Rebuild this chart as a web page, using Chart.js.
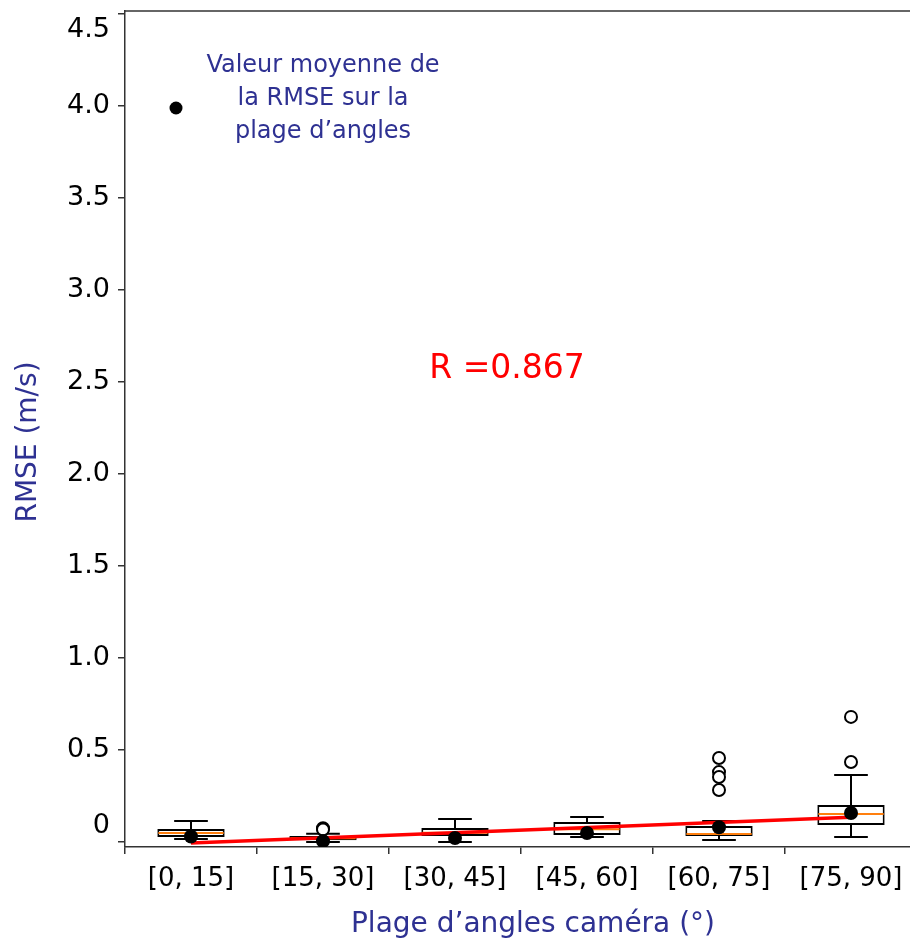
<!DOCTYPE html>
<html>
<head>
<meta charset="utf-8">
<script src="https://cdn.jsdelivr.net/npm/chart.js@4/dist/chart.umd.min.js"></script>
<style>
html,body{margin:0;padding:0;background:#fff;overflow:hidden;}
canvas{display:block;}
</style>
</head>
<body>
<canvas id="c" width="925" height="944" style="width:925px;height:944px;"></canvas>
<script>
const categories = ['[0, 15]', '[15, 30]', '[30, 45]', '[45, 60]', '[60, 75]', '[75, 90]'];
const whiskerMin = [0.016, 0.0, 0.0, 0.027, 0.011, 0.027];
const q1 = [0.027, 0.01, 0.033, 0.038, 0.033, 0.092];
const median = [0.049, 0.02, 0.05, 0.07, 0.043, 0.152];
const q3 = [0.071, 0.033, 0.076, 0.109, 0.087, 0.201];
const whiskerMax = [0.114, 0.045, 0.125, 0.136, 0.114, 0.364];
const means = [0.03, 0.005, 0.022, 0.049, 0.08, 0.158];
const outlierCats = ['[15, 30]', '[15, 30]', '[60, 75]', '[60, 75]', '[60, 75]', '[60, 75]', '[75, 90]', '[75, 90]'];
const outlierVals = [0.075, 0.068, 0.457, 0.38, 0.353, 0.283, 0.435, 0.68];
const trendVals = [-0.005, null, null, null, null, 0.135];
const yTicks = [0, 0.5, 1, 1.5, 2, 2.5, 3, 3.5, 4, 4.5];
const yTickLabels = ['0', '0.5', '1.0', '1.5', '2.0', '2.5', '3.0', '3.5', '4.0', '4.5'];
const rText = 'R =0.867';
const xTitle = 'Plage d\u2019angles cam\u00e9ra (\u00b0)';
const yTitle = 'RMSE (m/s)';
const legendLines = ['Valeur moyenne de', 'la RMSE sur la', 'plage d\u2019angles'];

const FONT = '"DejaVu Sans", Verdana, sans-serif';
const BLUE = '#2e3192';

const boxPlugin = {
  id: 'boxExtras',
  afterDatasetDraw(chart, args) {
    if (args.index !== 0) return;
    const ctx = chart.ctx, ys = chart.scales.y;
    const meta = chart.getDatasetMeta(0);
    ctx.save();
    categories.forEach((c, i) => {
      const bar = meta.data[i];
      const cx = bar.x, w = bar.width, cw = w / 2;
      const pMin = ys.getPixelForValue(whiskerMin[i]);
      const pQ1 = ys.getPixelForValue(q1[i]);
      const pQ3 = ys.getPixelForValue(q3[i]);
      const pMax = ys.getPixelForValue(whiskerMax[i]);
      const pMed = ys.getPixelForValue(median[i]);
      ctx.strokeStyle = '#000';
      ctx.lineWidth = 2;
      ctx.beginPath();
      ctx.moveTo(cx, pQ3); ctx.lineTo(cx, pMax);
      ctx.moveTo(cx - cw / 2, pMax); ctx.lineTo(cx + cw / 2, pMax);
      ctx.moveTo(cx, pQ1); ctx.lineTo(cx, pMin);
      ctx.moveTo(cx - cw / 2, pMin); ctx.lineTo(cx + cw / 2, pMin);
      ctx.stroke();
      ctx.strokeStyle = '#ff7f0e';
      ctx.lineWidth = 2;
      ctx.beginPath();
      ctx.moveTo(cx - w / 2 + 1, pMed); ctx.lineTo(cx + w / 2 - 1, pMed);
      ctx.stroke();
    });
    ctx.restore();
  },
  afterDraw(chart) {
    const ctx = chart.ctx, a = chart.chartArea;
    ctx.save();
    ctx.strokeStyle = '#333';
    ctx.lineWidth = 1.5;
    ctx.beginPath();
    ctx.moveTo(a.left, a.top); ctx.lineTo(a.right, a.top);
    ctx.stroke();
    ctx.fillStyle = '#ff0000';
    ctx.font = '33px ' + FONT;
    ctx.textAlign = 'center';
    ctx.textBaseline = 'middle';
    ctx.fillText(rText, 507, 369);
    ctx.fillStyle = BLUE;
    ctx.font = '24px ' + FONT;
    legendLines.forEach((t, i) => ctx.fillText(t, 323, 66 + i * 33));
    ctx.fillStyle = '#000';
    ctx.beginPath();
    ctx.arc(176, 108, 6.5, 0, Math.PI * 2);
    ctx.fill();
    ctx.fillStyle = BLUE;
    ctx.font = '28px ' + FONT;
    ctx.fillText(xTitle, 533, 925);
    ctx.translate(29, 442);
    ctx.rotate(-Math.PI / 2);
    ctx.fillText(yTitle, 0, 0);
    ctx.restore();
  }
};

new Chart(document.getElementById('c'), {
  type: 'bar',
  data: {
    labels: categories,
    datasets: [
      {
        type: 'bar',
        data: categories.map((c, i) => [q1[i], q3[i]]),
        backgroundColor: '#ffffff',
        borderColor: '#000000',
        borderWidth: 2,
        borderSkipped: false,
        barPercentage: 0.51,
        categoryPercentage: 1.0,
        order: 5
      },
      {
        type: 'line',
        data: outlierCats.map((c, i) => ({x: c, y: outlierVals[i]})),
        showLine: false,
        pointRadius: 6,
        pointBorderWidth: 2,
        pointBackgroundColor: '#ffffff',
        pointBorderColor: '#000000',
        order: 4
      },
      {
        type: 'line',
        data: trendVals,
        spanGaps: true,
        borderColor: '#ff0000',
        borderWidth: 3.5,
        pointRadius: 0,
        order: 2
      },
      {
        type: 'line',
        data: means,
        showLine: false,
        pointRadius: 7,
        pointBackgroundColor: '#000000',
        pointBorderColor: '#000000',
        pointBorderWidth: 0,
        order: 1
      }
    ]
  },
  options: {
    responsive: false,
    animation: false,
    devicePixelRatio: 1,
    layout: {padding: {top: 11, right: 1, left: 0, bottom: 0}},
    plugins: {legend: {display: false}, tooltip: {enabled: false}},
    scales: {
      x: {
        offset: true,
        grid: {display: true, drawOnChartArea: false, drawTicks: true, tickLength: 7, color: '#333', lineWidth: 1.5},
        border: {display: true, color: '#333', width: 1.5},
        ticks: {color: '#000', font: {family: FONT, size: 26}, padding: 10, maxRotation: 0, autoSkip: false},
        afterFit(s) { s.height = 97; s.paddingLeft = 0; s.paddingRight = 0; }
      },
      y: {
        min: -0.027,
        max: 4.516,
        afterBuildTicks(s) { s.ticks = yTicks.map(v => ({value: v})); },
        grid: {display: true, drawOnChartArea: false, drawTicks: true, tickLength: 7, color: '#333', lineWidth: 1.5},
        border: {display: true, color: '#333', width: 1.5},
        ticks: {
          color: '#000', font: {family: FONT, size: 27}, padding: 8,
          callback(v) {
            const k = yTicks.indexOf(v);
            if (k < 0) return '';
            if (k === yTicks.length - 1) return ['', yTickLabels[k]];
            if (k === 0) return [yTickLabels[k], ''];
            return yTickLabels[k];
          }
        },
        afterFit(s) { s.width = 125; s.paddingTop = 0; s.paddingBottom = 0; }
      }
    }
  },
  plugins: [boxPlugin]
});
</script>
</body>
</html>
